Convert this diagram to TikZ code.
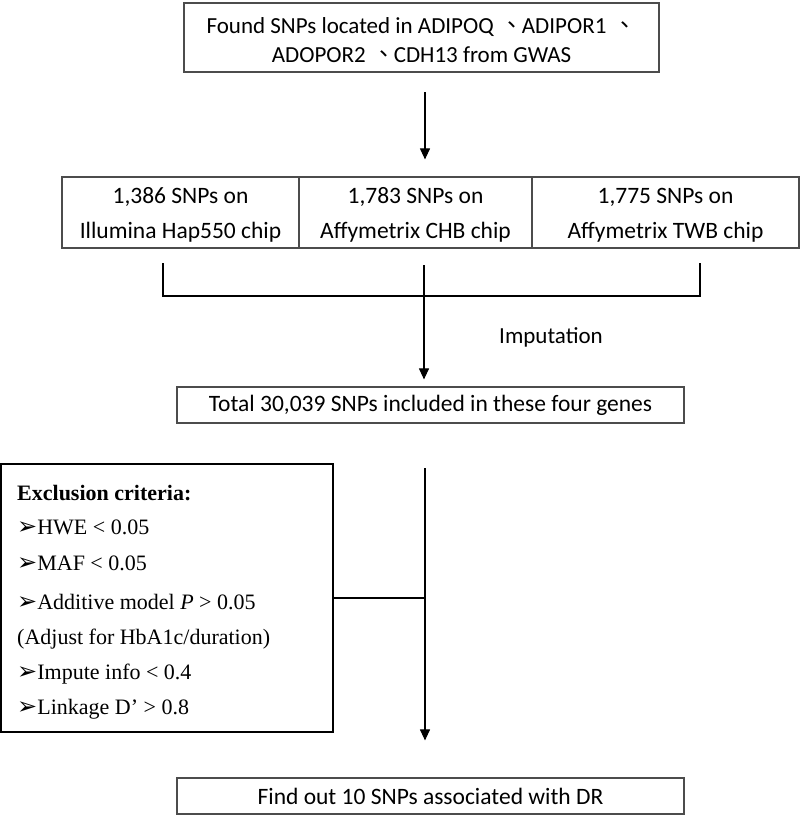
\documentclass[tikz,border=0pt]{standalone}
\usepackage{fontspec}
\setmainfont{Carlito}
\newfontfamily\serifcrit{Liberation Serif}
\newfontfamily\cjk{Noto Sans CJK TC}
\newfontfamily\dejavu{DejaVu Sans}
\usetikzlibrary{arrows.meta}
\newcommand{\bul}{{\dejavu\fontsize{24}{24}\selectfont ➢}}
\newcommand{\dun}{\hspace{7pt}{\cjk 、}\hspace{-2pt}}
\begin{document}
\begin{tikzpicture}[x=1pt,y=-1pt,
  box/.style={draw=black!70, line width=1.2pt, inner sep=0pt, align=center, font=\fontsize{23.5}{35}\selectfont},
  conn/.style={line width=1.1pt, draw=black},
  arr/.style={conn, -{Triangle[width=10pt,length=11pt]}},
  crit/.style={anchor=base west, inner sep=0pt, font=\serifcrit\fontsize{22}{26}\selectfont}]
\useasboundingbox (0,0) rectangle (800,815);

\node[box, minimum width=475pt, minimum height=69pt, font=\fontsize{23}{29}\selectfont] (top) at (421.5,37.5)
  {\rule{0pt}{22pt}Found SNPs located in ADIPOQ\dun ADIPOR1\dun\\ADOPOR2\dun CDH13 from GWAS};

\node[box, minimum width=237pt, minimum height=71pt] (chipA) at (180.5,212.5) {\rule{0pt}{21pt}1,386 SNPs on\\Illumina Hap550 chip};
\node[box, minimum width=233pt, minimum height=71pt] (chipB) at (415.5,212.5) {\rule{0pt}{21pt}1,783 SNPs on\\Affymetrix CHB chip};
\node[box, minimum width=267pt, minimum height=71pt] (chipC) at (665.5,212.5) {\rule{0pt}{21pt}1,775 SNPs on\\Affymetrix TWB chip};

\coordinate (a1s) at (425,92);
\draw[arr, shorten >=17pt] (a1s) -- (a1s |- chipB.north);

\coordinate (bl) at (163,263);
\coordinate (br) at (700,263);
\coordinate (bh) at (424,296);
\coordinate (bm) at (424,265);
\draw[conn] (bl) |- (bh) -| (br);

\node[font=\fontsize{23}{28}\selectfont, inner sep=0pt] (imp) at (551,337) {Imputation};

\node[box, minimum width=507pt, minimum height=36pt] (total) at (430.5,405) {Total 30,039 SNPs included in these four genes};
\draw[arr, shorten >=7pt] (bm) -- (bm |- total.north);

\node[draw, line width=2pt, minimum width=332pt, minimum height=268pt, inner sep=0pt] (excl) at (167,598) {};
\node[crit, font=\serifcrit\bfseries\fontsize{22}{26}\selectfont] (c0) at (17,500) {Exclusion criteria:};
\node[crit] (c1) at (17,534) {\bul HWE < 0.05};
\node[crit] (c2) at (17,570) {\bul MAF < 0.05};
\node[crit] (c3) at (17,609) {\bul Additive model \textit{P} > 0.05};
\node[crit] (c4) at (17,644) {(Adjust for HbA1c/duration)};
\node[crit] (c5) at (17,679) {\bul Impute info < 0.4};
\node[crit] (c6) at (17,714) {\bul Linkage D’ > 0.8};

\node[box, minimum width=507pt, minimum height=36pt] (final) at (430.5,796) {Find out 10 SNPs associated with DR};

\coordinate (vtop) at (425,468);
\draw[arr, shorten >=37pt] (vtop) -- (vtop |- final.north);
\draw[conn] (excl.east) -- (excl.east -| vtop);
\end{tikzpicture}
\end{document}
